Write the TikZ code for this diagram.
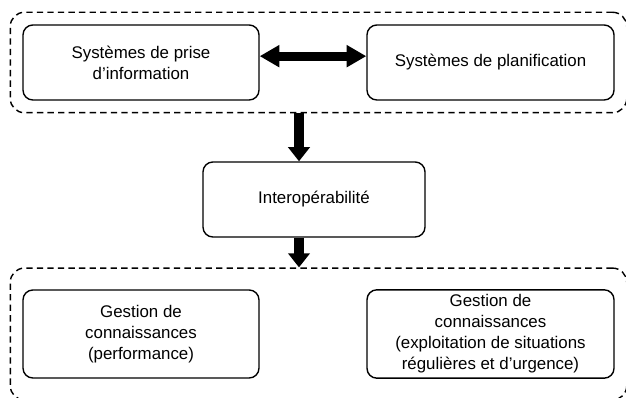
\documentclass[tikz,border=0pt]{standalone}
\usepackage{fontspec}
\setmainfont{Liberation Sans}
\usetikzlibrary{arrows.meta,fit}
\tikzset{
Boite/.style={
 draw=black,
 line width=1pt,
 rounded corners=7pt,
 align=center,
 font=\fontsize{12}{15}\selectfont
 },
Cadre/.style={
 draw=black,
 line width=1pt,
 dash pattern=on 4.5pt off 3pt,
 rounded corners=10pt,
 inner sep=0pt
 },
GrosseFleche/.style={
 line width=7pt,
 -{Triangle[width=15pt,length=10pt]}
 },
DoubleGrosseFleche/.style={
 line width=6.5pt,
 {Triangle[width=15pt,length=14pt]}-{Triangle[width=15pt,length=14pt]}
 }
}
\begin{document}
\begin{tikzpicture}[x=0.025cm,y=-0.025cm]
\useasboundingbox (0,0) rectangle (626,398);
\node[Boite,minimum width=236*0.025cm,minimum height=75*0.025cm] (prise) at (141,62.5) {Systèmes de prise\\d’information};
\node[Boite,minimum width=247*0.025cm,minimum height=75*0.025cm] (planif) at (490.5,62.5) {Systèmes de planification};
\node[Boite,minimum width=222*0.025cm,minimum height=75*0.025cm] (inter) at (314,199.5) {Interopérabilité};
\node[Boite,minimum width=236*0.025cm,minimum height=88*0.025cm] (perf) at (141,334) {Gestion de\\connaissances\\(performance)};
\node[Boite,minimum width=247*0.025cm,minimum height=88*0.025cm] (urg) at (490.5,334) {Gestion de\\connaissances\\(exploitation de situations\\régulières et d’urgence)};
\node[Cadre,fit=(prise)(planif),inner xsep=12*0.025cm,inner ysep=12*0.025cm] (haut) {};
\node[Cadre,fit=(perf)(urg),inner xsep=12*0.025cm,inner ysep=21*0.025cm] (bas) {};
\coordinate (axe) at (299,0);
\draw[DoubleGrosseFleche] ([yshift=4.5pt]prise.east) -- ([yshift=4.5pt]planif.west);
\draw[GrosseFleche] (haut.south -| axe) -- (inter.north -| axe);
\draw[GrosseFleche] (inter.south -| axe) -- (bas.north -| axe);
\end{tikzpicture}
\end{document}
